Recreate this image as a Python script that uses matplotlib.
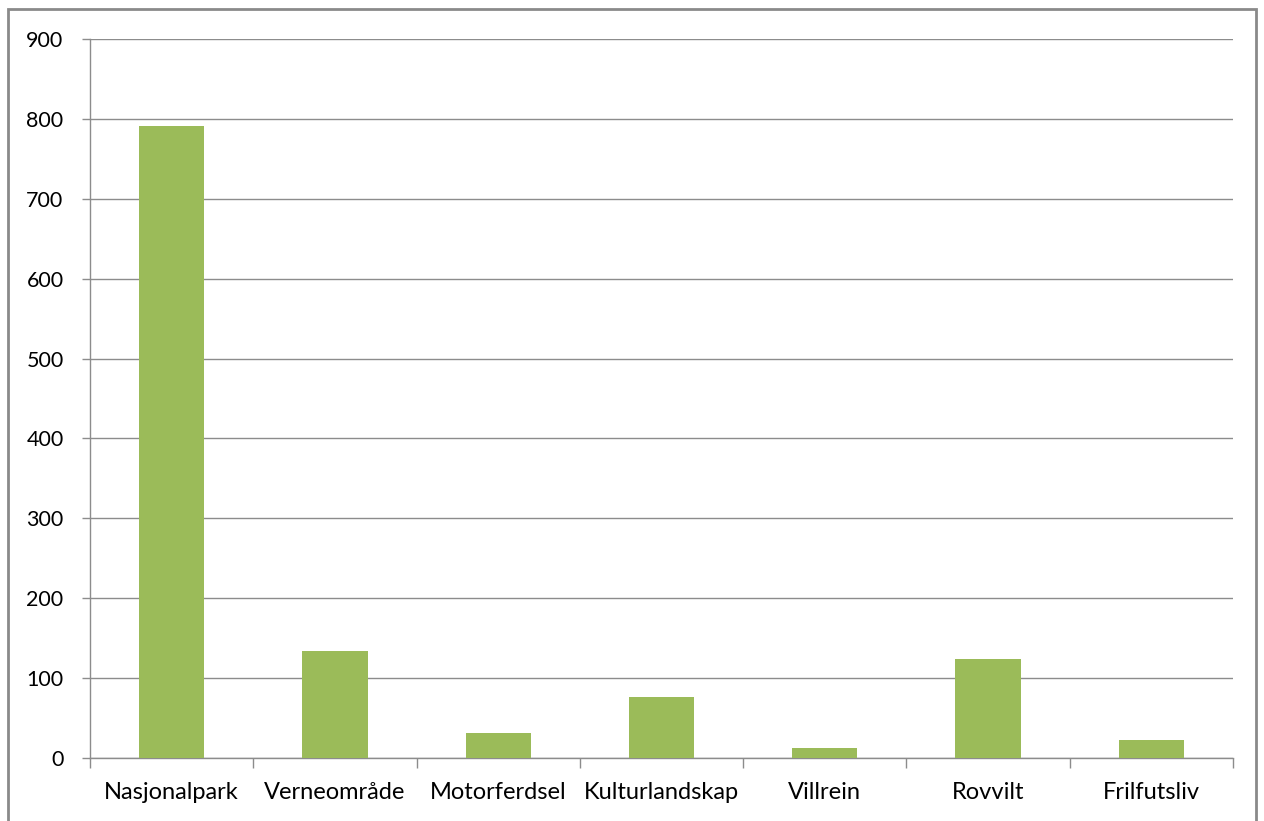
import matplotlib
matplotlib.use("Agg")
import matplotlib.pyplot as plt
from matplotlib.patches import Rectangle
import numpy as np

categories = ["Nasjonalpark", "Verneområde", "Motorferdsel", "Kulturlandskap", "Villrein", "Rovvilt", "Frilfutsliv"]
values = [791, 134, 31, 76, 13, 124, 23]
yticks = [0, 100, 200, 300, 400, 500, 600, 700, 800, 900]

plt.rcParams['font.family'] = ['Lato', 'DejaVu Sans']

fig = plt.figure(figsize=(12.64, 8.21), dpi=100)
ax = fig.add_axes([90/1264, 1-758/821, (1233-90)/1264, (758-39)/821])

x = np.arange(len(categories))
ax.bar(x, values, width=0.4, color="#9BBB59", zorder=3)

ax.set_xlim(-0.5, len(categories)-0.5)
ax.set_ylim(0, 900)
ax.set_yticks(yticks)
ax.set_yticklabels([str(v) for v in yticks], fontsize=15.5, color="#000000")
ax.yaxis.grid(True, color="#8c8c8c", linewidth=1.0, zorder=0)
ax.tick_params(axis='y', length=6, width=1, color="#8c8c8c", pad=13)

ax.set_xticks(x)
ax.set_xticklabels(categories, fontsize=17, color="#000000")
ax.tick_params(axis='x', which='major', length=0, pad=17)
ax.set_xticks(np.arange(-0.5, len(categories), 1.0), minor=True)
ax.tick_params(axis='x', which='minor', length=7, width=1, color="#8c8c8c")

for side in ["top", "right"]:
    ax.spines[side].set_visible(False)
for side in ["left", "bottom"]:
    ax.spines[side].set_color("#8c8c8c")
    ax.spines[side].set_linewidth(1.0)

border = Rectangle((8/1264, -0.01), (1256-8)/1264, 1.01-9/821, transform=fig.transFigure,
                   fill=False, edgecolor="#8a8a8a", linewidth=2.0, clip_on=False)
fig.patches.append(border)

fig.savefig("out.png", dpi=100)
